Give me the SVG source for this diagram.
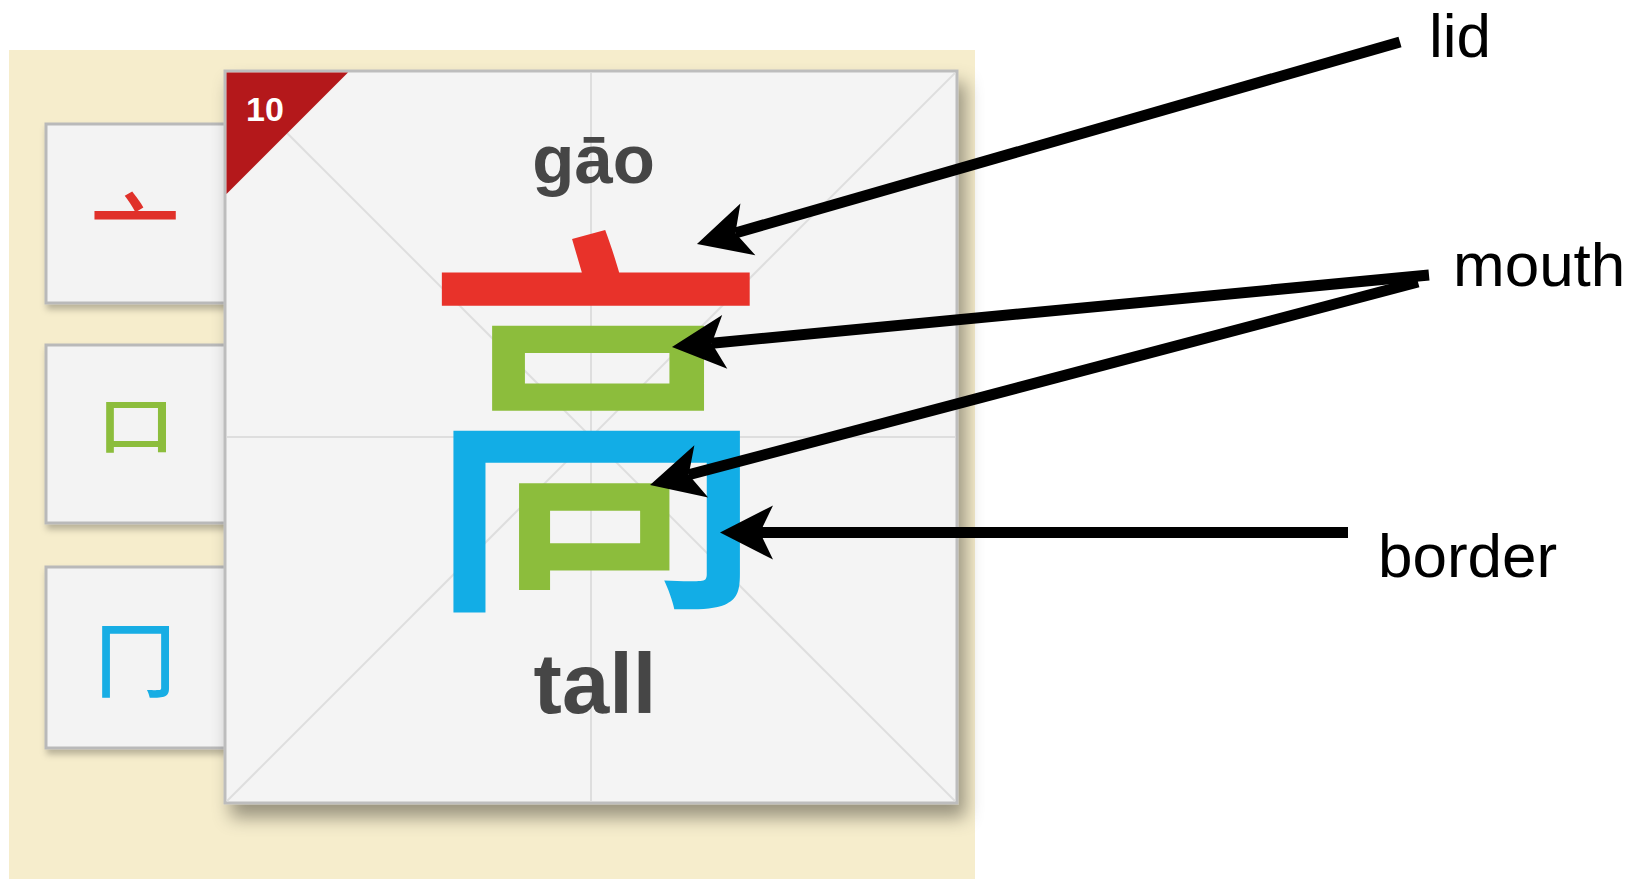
<svg xmlns="http://www.w3.org/2000/svg" width="1647" height="879" viewBox="0 0 1647 879">
  <style>
    .tile { fill: #f3f3f3; stroke: #b9b9b9; stroke-width: 3; }
    .grid { stroke: #dedede; stroke-width: 2; fill: none; }
    .label { font-family: "Liberation Sans", Arial, sans-serif; font-size: 62px; fill: #000; }
    .pin { font-family: "Liberation Sans", Arial, sans-serif; font-weight: bold; fill: #464646; text-anchor: middle; }
    .han { font-family: "Noto Sans CJK SC", "Noto Sans CJK JP", sans-serif; font-weight: 500; text-anchor: middle; }
    .arrow { stroke: #000; stroke-width: 11; fill: none; marker-end: url(#head); }
  </style>
  <defs>
    <marker id="head" markerUnits="userSpaceOnUse" orient="auto" refX="-40" refY="0" markerWidth="60" markerHeight="60" viewBox="-55 -30 60 60" overflow="visible">
      <path d="M0,0 L-53,-27 L-40,0 L-53,27 Z" fill="#000"/>
    </marker>
    <filter id="cardShadow" x="-10%" y="-10%" width="130%" height="130%">
      <feDropShadow dx="7" dy="13" stdDeviation="9" flood-color="#000" flood-opacity="0.38"/>
    </filter>
    <filter id="tileShadow" x="-10%" y="-10%" width="130%" height="130%">
      <feDropShadow dx="2" dy="5" stdDeviation="3" flood-color="#000" flood-opacity="0.25"/>
    </filter>
    <pattern id="gaoFill" patternUnits="userSpaceOnUse" x="0" y="0" width="1647" height="879">
      <rect x="0" y="0" width="1647" height="314" fill="#e8322a"/>
      <rect x="0" y="314" width="1647" height="107" fill="#8cbd3c"/>
      <rect x="0" y="421" width="1647" height="458" fill="#12ade6"/>
      <path d="M495,465 H673 V574 H655 V593 H495 Z" fill="#8cbd3c"/>
    </pattern>
  </defs>

  <g id="background">
    <rect x="9" y="50" width="966" height="829" fill="#f6edcc"/>
  </g>

  <g id="tile-lid">
    <rect class="tile" x="46" y="124" width="200" height="179" filter="url(#tileShadow)"/>
    <text class="han" x="135" y="267" font-size="90" fill="#e0312a">亠</text>
  </g>
  <g id="tile-mouth">
    <rect class="tile" x="46" y="345" width="200" height="178" filter="url(#tileShadow)"/>
    <text class="han" x="136" y="449" font-size="62" textLength="78" lengthAdjust="spacingAndGlyphs" fill="#8cbd3c">口</text>
  </g>
  <g id="tile-border">
    <rect class="tile" x="46" y="567" width="200" height="181" filter="url(#tileShadow)"/>
    <text class="han" x="135" y="690" font-size="82" fill="#17ade4">冂</text>
  </g>

  <g id="card">
    <rect x="225" y="71" width="732" height="732" fill="#f4f4f4" stroke="#bdbdbd" stroke-width="3" filter="url(#cardShadow)"/>
    <line class="grid" x1="591" y1="73" x2="591" y2="801"/>
    <line class="grid" x1="227" y1="437" x2="955" y2="437"/>
    <line class="grid" x1="227" y1="73" x2="955" y2="801"/>
    <line class="grid" x1="955" y1="73" x2="227" y2="801"/>
  </g>

  <g id="badge">
    <path d="M226.5,72.5 H348 L226.5,194 Z" fill="#b4181b"/>
    <text x="246" y="121" font-family="Liberation Sans, Arial, sans-serif" font-weight="bold" font-size="34" fill="#ffffff">10</text>
  </g>

  <g id="pinyin">
    <text class="pin" x="593.5" y="183" font-size="69">gāo</text>
  </g>
  <g id="meaning">
    <text class="pin" x="595" y="713" font-size="85">tall</text>
  </g>

  <g id="character">
    <text class="han" x="596.5" y="578" font-size="410" textLength="349" lengthAdjust="spacingAndGlyphs" fill="url(#gaoFill)">高</text>
  </g>

  <g id="connectors">
    <line class="arrow" x1="1400" y1="42" x2="735.4" y2="233"/>
    <line class="arrow" x1="1429" y1="275" x2="711.8" y2="343.2"/>
    <line class="arrow" x1="1418" y1="282" x2="688.7" y2="474.8"/>
    <line class="arrow" x1="1348" y1="532.5" x2="760" y2="532.5"/>
  </g>

  <g id="labels">
    <text class="label" x="1429" y="57">lid</text>
    <text class="label" x="1453" y="286">mouth</text>
    <text class="label" x="1378" y="577">border</text>
  </g>
</svg>
